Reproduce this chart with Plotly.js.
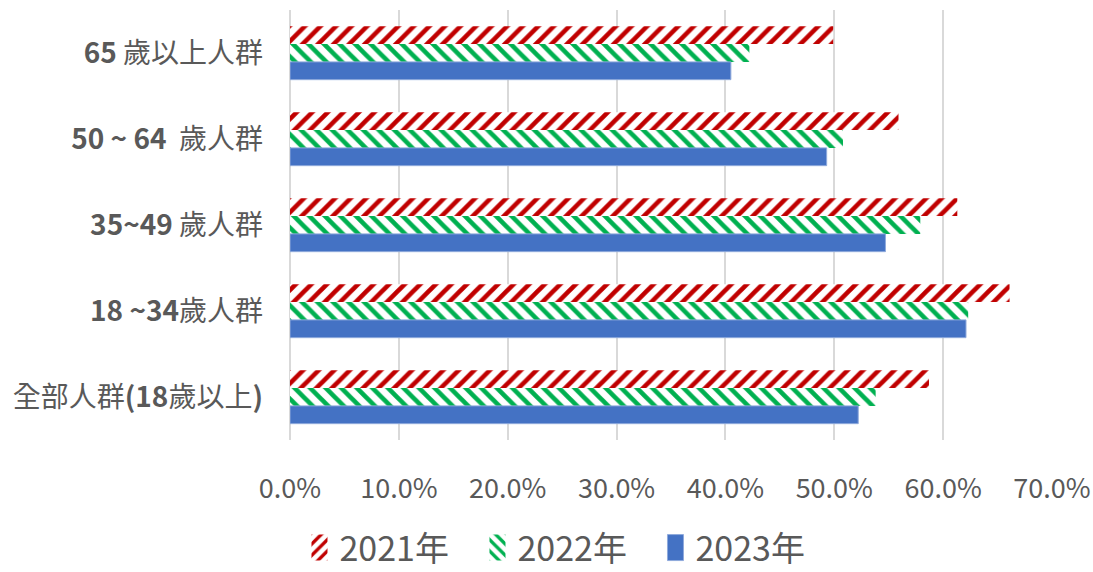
<!DOCTYPE html>
<html>
<head>
<meta charset="utf-8">
<script src="https://cdn.plot.ly/plotly-3.0.1.min.js"></script>
<style>
  html, body { margin: 0; padding: 0; background: #ffffff; }
  #chart { width: 1093px; height: 572px; }
</style>
</head>
<body>
<div id="chart"></div>
<script>
// Age groups, listed top to bottom
const ageGroups = ['65 歲以上人群', '50 ~ 64  歲人群', '35~49 歲人群', '18 ~34歲人群', '全部人群(18歲以上)'];

// Share per age group (fraction)
const values2021 = [0.499, 0.559, 0.613, 0.661, 0.587];
const values2022 = [0.422, 0.508, 0.579, 0.623, 0.538];
const values2023 = [0.405, 0.493, 0.547, 0.621, 0.522];

const seriesNames = ['2021年', '2022年', '2023年'];
const xTicks = [0, 0.1, 0.2, 0.3, 0.4, 0.5, 0.6, 0.7];

// Digits and brackets are shown bold, CJK text in regular weight
const tickText = ageGroups.map(s => s.replace(/([0-9~()][0-9~() ]*[0-9~()]|[0-9~()])/g, '<b>$1</b>'));

const cjk = '"Noto Sans CJK TC", "Noto Sans", sans-serif';
const grey = '#595959';

const traces = [
  {
    type: 'bar', orientation: 'h', name: seriesNames[0],
    y: ageGroups, x: values2021,
    marker: { color: '#ffffff', line: { width: 0 },
      pattern: { shape: '/', fgcolor: '#C00000', bgcolor: '#ffffff', size: 11, solidity: 0.42 } }
  },
  {
    type: 'bar', orientation: 'h', name: seriesNames[1],
    y: ageGroups, x: values2022,
    marker: { color: '#ffffff', line: { width: 0 },
      pattern: { shape: '\\', fgcolor: '#00B050', bgcolor: '#ffffff', size: 11, solidity: 0.42 } }
  },
  {
    type: 'bar', orientation: 'h', name: seriesNames[2],
    y: ageGroups, x: values2023,
    marker: { color: '#4472C4', line: { color: '#8FAADC', width: 1 } }
  }
];

const layout = {
  width: 1093, height: 572,
  margin: { l: 290, r: 41, t: 10, b: 132 },
  paper_bgcolor: '#ffffff', plot_bgcolor: '#ffffff',
  barmode: 'group',
  bargap: 0.38, bargroupgap: 0,
  showlegend: true,
  xaxis: {
    range: [0, 0.7],
    tickvals: xTicks,
    tickformat: '.1%',
    showgrid: true, gridcolor: '#D9D9D9', gridwidth: 2,
    zeroline: true, zerolinecolor: '#D9D9D9', zerolinewidth: 2,
    showline: false, ticks: '',
    ticklabelstandoff: 30,
    tickfont: { family: cjk, size: 27, color: grey },
    fixedrange: true
  },
  yaxis: {
    type: 'category',
    autorange: 'reversed',
    tickvals: ageGroups,
    ticktext: tickText,
    showgrid: false, zeroline: false, showline: false, ticks: '',
    ticklabelstandoff: 26,
    tickfont: { family: cjk, size: 28, color: grey },
    fixedrange: true
  },
  legend: {
    orientation: 'h',
    xref: 'container', yref: 'container',
    x: 0.274, xanchor: 'left',
    y: 0.042, yanchor: 'middle',
    font: { family: cjk, size: 34, color: grey },
    entrywidthmode: 'pixels',
    entrywidth: 133,
    traceorder: 'normal'
  },
  font: { family: cjk, color: grey }
};

Plotly.newPlot('chart', traces, layout, { displayModeBar: false, staticPlot: true }).then(gd => {
  // Taller legend swatches
  gd.querySelectorAll('.legend .legendpoints path').forEach(p => {
    p.setAttribute('d', 'M8,13H-8V-13H8Z');
  });
});
</script>
</body>
</html>
